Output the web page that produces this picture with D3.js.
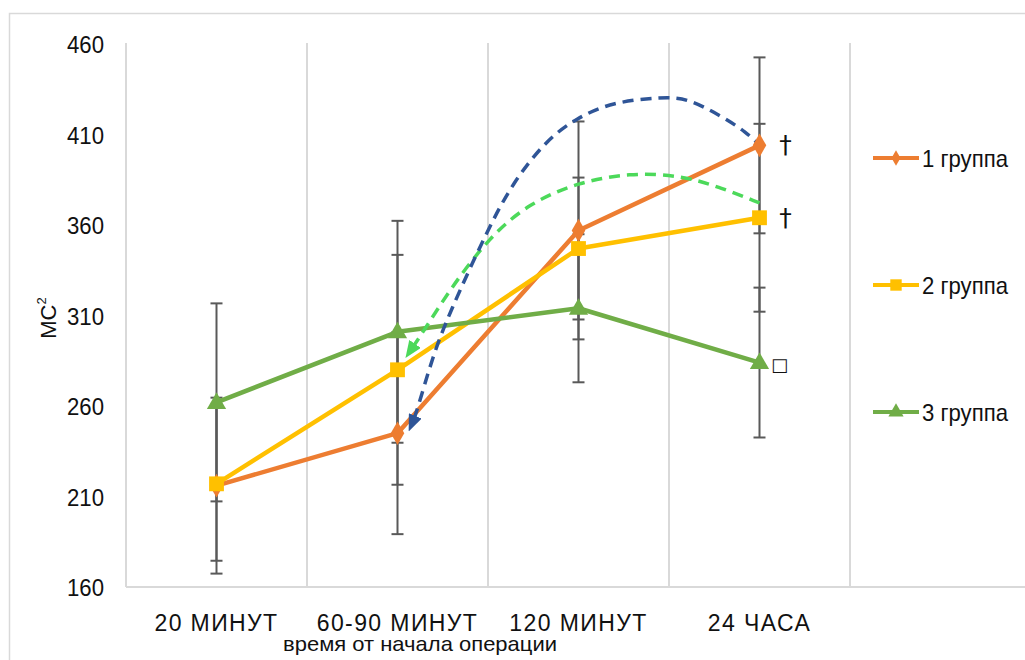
<!DOCTYPE html>
<html>
<head>
<meta charset="utf-8">
<script src="https://cdn.jsdelivr.net/npm/d3@7/dist/d3.min.js"></script>
<style>
  html, body { margin: 0; padding: 0; background: #fff; }
  svg { display: block; font-family: "Liberation Sans", Arial, sans-serif; }
</style>
</head>
<body>
<svg id="chart" width="1025" height="660"></svg>
<script>
// ---------- data ----------
const categories = ["20 МИНУТ", "60-90 МИНУТ", "120 МИНУТ", "24 ЧАСА", ""];
const seriesNames = ["1 группа", "2 группа", "3 группа"];
const group1 = [216, 245, 357, 404];
const group2 = [217, 280, 347, 364];
const group3 = [262, 301, 314, 284];
const err1 = [48.6, 55.8, 60.2, 48.6];
const err2 = [42.5, 63.5, 39.2, 51.9];
const err3 = [54.7, 61.3, 40.9, 41.4];
const yTicks = [160, 210, 260, 310, 360, 410, 460];
const xTitle = "время от начала операции";
const yTitle = "МС";
// dashed annotation arrows: [category index (fractional), value]
const blueArrow = [[3.017, 402.5], [2.928, 411.4], [2.779, 420.8], [2.597, 430.2], [2.464, 430.7],
  [2.188, 428.0], [1.989, 419.1], [1.823, 407.0], [1.635, 383.2], [1.492, 356.1],
  [1.287, 311.4], [1.193, 287.1], [1.105, 256.1], [1.077, 249.5]];
const greenArrow = [[3.0, 372.2], [2.779, 381.0], [2.558, 387.6], [2.282, 388.7], [2.006, 383.8],
  [1.729, 372.2], [1.508, 353.4], [1.287, 324.1], [1.138, 300.3], [1.066, 289.8]];
// significance marks at the last point
const marks = [{ s: 0, label: "†" }, { s: 1, label: "†" }, { s: 2, label: "□" }];

// ---------- setup ----------
const svg = d3.select("#chart");
const colors = ["#ED7D31", "#FFC000", "#70AD47"];
const values = [group1, group2, group3];
const errs = [err1, err2, err3];
const shapes = [d3.symbolDiamond, d3.symbolSquare, d3.symbolTriangle];
const txt = "#111";

const x = d3.scaleBand().domain(categories).range([126, 1031]).paddingInner(0).paddingOuter(0);
const bw = x.bandwidth();
const y = d3.scaleLinear().domain([160, 460]).range([587, 44]);
const xi = d3.scaleLinear().domain([0, 1])
  .range([x(categories[0]) + bw / 2, x(categories[1]) + bw / 2]);

// outer chart border
svg.append("rect").attr("x", 9.5).attr("y", 13.5).attr("width", 1100).attr("height", 700)
  .attr("fill", "none").attr("stroke", "#D9D9D9").attr("stroke-width", 1.5);

// vertical gridlines at category boundaries
const bounds = categories.map(c => x(c));
svg.append("g").selectAll("line").data(bounds).join("line")
  .attr("x1", d => d).attr("x2", d => d)
  .attr("y1", y(460) - 1).attr("y2", y(160))
  .attr("stroke", "#D9D9D9").attr("stroke-width", 2);

// bottom axis line
svg.append("line").attr("x1", 126).attr("x2", 1031).attr("y1", y(160)).attr("y2", y(160))
  .attr("stroke", "#D9D9D9").attr("stroke-width", 2);

// y ticks
const yAxis = d3.axisLeft(y).tickValues(yTicks).tickSize(0).tickPadding(0);
const gy = svg.append("g").attr("transform", "translate(104,0)").call(yAxis);
gy.select(".domain").remove();
gy.selectAll("text").attr("font-size", 24).attr("fill", txt)
  .attr("font-family", "Liberation Sans, Arial, sans-serif").attr("dy", "0.36em")
  .attr("textLength", 37).attr("lengthAdjust", "spacingAndGlyphs");

// x labels
const xAxis = d3.axisBottom(x).tickSize(0).tickPadding(0);
const gx = svg.append("g").attr("transform", "translate(0,631)").call(xAxis);
gx.select(".domain").remove();
gx.selectAll("text").attr("font-size", 23).attr("fill", txt)
  .attr("font-family", "Liberation Sans, Arial, sans-serif")
  .attr("letter-spacing", "1.4px").attr("dy", 0).attr("y", 0);

// x title
svg.append("text").attr("x", 420).attr("y", 651).attr("text-anchor", "middle")
  .attr("font-size", 21).attr("fill", txt)
  .attr("textLength", 274).attr("lengthAdjust", "spacingAndGlyphs").text(xTitle);

// y title
const yt = svg.append("text").attr("transform", "translate(56,318) rotate(-90)")
  .attr("text-anchor", "middle").attr("font-size", 22).attr("fill", txt);
yt.append("tspan").text(yTitle);
yt.append("tspan").attr("font-size", 13).attr("dy", -10).text("2");

// error bars
const eb = svg.append("g").attr("stroke", "#595959").attr("stroke-width", 2);
values.forEach((vals, s) => {
  vals.forEach((v, i) => {
    const cx = x(categories[i]) + bw / 2;
    const e = errs[s][i];
    eb.append("line").attr("x1", cx).attr("x2", cx).attr("y1", y(v - e)).attr("y2", y(v + e));
    [v - e, v + e].forEach(t => {
      eb.append("line").attr("x1", cx - 6).attr("x2", cx + 6).attr("y1", y(t)).attr("y2", y(t));
    });
  });
});

// series lines
const line = d3.line().x((d, i) => x(categories[i]) + bw / 2).y(d => y(d));
values.forEach((vals, s) => {
  svg.append("path").datum(vals).attr("d", line).attr("fill", "none")
    .attr("stroke", colors[s]).attr("stroke-width", 4.5).attr("stroke-linejoin", "round");
});

// arrow markers
const defs = svg.append("defs");
[["arrBlue", "#2F5597"], ["arrGreen", "#4CD95A"]].forEach(([id, c]) => {
  defs.append("marker").attr("id", id).attr("viewBox", "0 0 12 10")
    .attr("refX", 7).attr("refY", 5).attr("markerWidth", 17).attr("markerHeight", 14)
    .attr("markerUnits", "userSpaceOnUse").attr("orient", "auto")
    .attr("preserveAspectRatio", "none")
    .append("path").attr("d", "M0,0 L12,5 L0,10 Z").attr("fill", c);
});

// annotation curves
const curve = d3.line().x(d => xi(d[0])).y(d => y(d[1])).curve(d3.curveBasis);
svg.append("path").datum(greenArrow).attr("d", curve).attr("fill", "none")
  .attr("stroke", "#4CD95A").attr("stroke-width", 3.5).attr("stroke-dasharray", "11,7")
  .attr("marker-end", "url(#arrGreen)");
svg.append("path").datum(blueArrow).attr("d", curve).attr("fill", "none")
  .attr("stroke", "#2F5597").attr("stroke-width", 3.5).attr("stroke-dasharray", "11,7")
  .attr("marker-end", "url(#arrBlue)");

// markers
const markerSizes = [160, 220, 160];
values.forEach((vals, s) => {
  svg.append("g").selectAll("path").data(vals).join("path")
    .attr("transform", (d, i) => `translate(${x(categories[i]) + bw / 2},${y(d) + (s === 2 ? 1 : 0)})`)
    .attr("d", d3.symbol().type(shapes[s]).size(markerSizes[s]))
    .attr("fill", colors[s]);
});

// significance marks
marks.forEach(m => {
  const v = values[m.s][3];
  const box = m.label === "□";
  svg.append("text").attr("x", x(categories[3]) + bw / 2 + (box ? 20 : 26))
    .attr("y", y(v) + 8)
    .attr("text-anchor", "middle")
    .attr("font-family", "DejaVu Sans, sans-serif")
    .attr("font-size", box ? 18 : 25).attr("fill", txt).text(m.label);
});

// legend
const legY = [158, 285, 412];
const legMarkerSizes = [70, 130, 100];
seriesNames.forEach((name, s) => {
  const g = svg.append("g").attr("transform", `translate(873,${legY[s]})`);
  g.append("line").attr("x1", 0).attr("x2", 46).attr("y1", 0).attr("y2", 0)
    .attr("stroke", colors[s]).attr("stroke-width", 4);
  g.append("path").attr("transform", "translate(23,0)")
    .attr("d", d3.symbol().type(shapes[s]).size(legMarkerSizes[s])).attr("fill", colors[s]);
  g.append("text").attr("x", 49).attr("y", 8.5).attr("font-size", 24).attr("fill", txt)
    .attr("textLength", 86).attr("lengthAdjust", "spacingAndGlyphs").text(name);
});
</script>
</body>
</html>
